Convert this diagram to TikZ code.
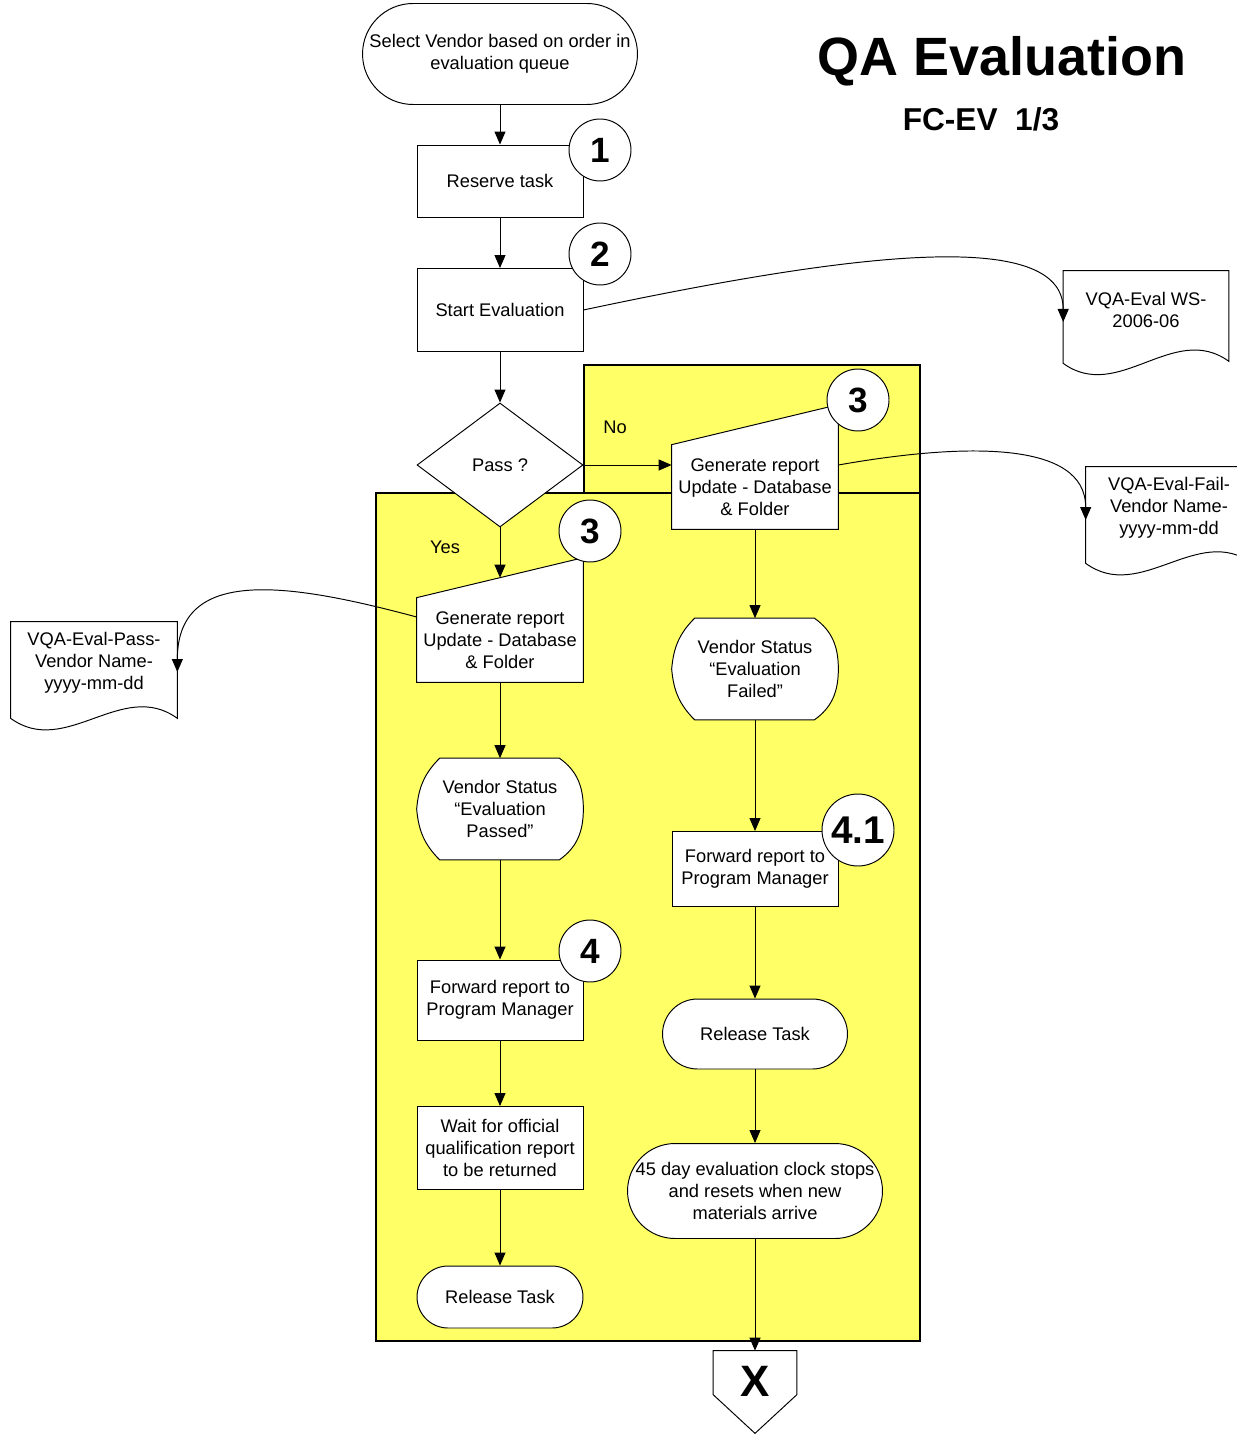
\documentclass[tikz,border=0pt]{standalone}
\usepackage{fontspec}
\setmainfont{Liberation Sans}
\usepackage{tikz}
\usetikzlibrary{positioning,arrows.meta,calc,backgrounds,shapes.geometric}
\definecolor{ink}{HTML}{000000}
\definecolor{lane}{HTML}{FFFF66}
\tikzset{
  blk/.style  = {rectangle, draw=ink, fill=white, line width=0.55pt, align=center, text=ink,
                 font=\fontsize{10.4}{12.5}\selectfont, minimum width=3.32cm, inner sep=1pt},
  trm/.style  = {blk, inner sep=0pt},
  dec/.style  = {diamond, draw=ink, fill=white, line width=0.55pt, inner sep=0pt,
                 minimum width=3.32cm, minimum height=2.48cm, font=\fontsize{10.4}{12.5}\selectfont},
  txt/.style  = {align=center, text=ink, font=\fontsize{10.4}{12.5}\selectfont, inner sep=1pt,
                 minimum width=3.32cm},
  shp/.style  = {draw=ink, fill=white, line width=0.55pt},
  num/.style  = {circle, draw=ink, fill=white, line width=0.55pt, minimum size=1.24cm, inner sep=0pt,
                 font=\bfseries\fontsize{20}{20}\selectfont},
  lab/.style  = {text=ink, font=\fontsize{10.4}{12.5}\selectfont},
  ar/.style   = {-{Triangle[length=2.6mm,width=2.2mm]}, line width=0.55pt, draw=ink},
  lanebox/.style = {fill=lane, draw=ink, line width=1.1pt},
}
\begin{document}
\begin{tikzpicture}[x=0.02cm,y=-0.02cm]
  \useasboundingbox (0,0) rectangle (1236,1435);

  % ---------------- yellow area ----------------
  \begin{scope}[on background layer]
    \draw[lanebox] (584,365) rectangle (920,493);
    \draw[lanebox] (376,493) rectangle (920,1341);
  \end{scope}

  % ---------------- title ----------------
  \node[text=ink, font=\bfseries\fontsize{30.7}{34}\selectfont] (ttl) at (1002,61) {QA Evaluation};
  \node[text=ink, font=\bfseries\fontsize{18}{20}\selectfont] (sub) at (981,119) {FC-EV~~1/3};

  % ---------------- top of the flow ----------------
  \node[trm, minimum width=5.5cm, minimum height=2.02cm, rounded corners=1.01cm] (start) at (500,54)
       {Select Vendor based on order in\\evaluation queue};
  \node[blk, minimum height=1.44cm] (rsv) at (500,181) {Reserve task};
  \node[num] (n1) at (600,150) {1};
  \draw[ar] (start) -- (rsv);
  \node[blk, minimum height=1.66cm] (sev) at (500,310) {Start Evaluation};
  \node[num] (n2) at (600,254) {2};
  \draw[ar] (rsv) -- (sev);

  % worksheet
  \node[txt, minimum width=3.3cm, minimum height=1.56cm] (docws) at (1146,310) {VQA-Eval WS-\\2006-06};
  \begin{scope}[on background layer]
    \draw[shp] ($(docws.south west)+(0,14)$) -- (docws.north west) -- (docws.north east)
      -- ($(docws.south east)+(0,12)$) .. controls +(-55,-40) and +(55,40) .. ($(docws.south west)+(0,14)$) -- cycle;
  \end{scope}
  \draw[ar] (sev.east) to[out=12, in=90, out looseness=1.5, in looseness=0.5] ($(docws.west)+(0,12)$);

  \node[dec] (pass) at (500,465) {Pass ?};
  \draw[ar] (sev) -- (pass);

  % ---------------- fail branch ----------------
  \node[txt, minimum height=1.68cm] (genr) at (755,487) {Generate report\\Update - Database\\\& Folder};
  \begin{scope}[on background layer]
    \draw[shp] (genr.south west) -- (genr.south east) -- ($(genr.north east)+(0,-40)$) -- (genr.north west) -- cycle;
  \end{scope}
  \node[num] (n3r) at (858,400) {3};
  \draw[ar] (pass.east) -- (pass.east -| genr.west);
  \node[lab] (no) at (615,427) {No};

  \node[txt, minimum height=1.64cm] (docf) at (1169,508) {VQA-Eval-Fail-\\Vendor Name-\\yyyy-mm-dd};
  \begin{scope}[on background layer]
    \draw[shp] ($(docf.south west)+(0,14)$) -- (docf.north west) -- (docf.north east)
      -- ($(docf.south east)+(0,14)$) .. controls +(-55,-40) and +(55,40) .. ($(docf.south west)+(0,14)$) -- cycle;
  \end{scope}
  \draw[ar] ($(genr.east)+(0,-22)$) to[out=10, in=90, out looseness=1.3, in looseness=0.8] ($(docf.west)+(0,12)$);

  \node[txt, minimum height=2.02cm] (vsf) at (755,669) {Vendor Status\\“Evaluation\\Failed”};
  \begin{scope}[on background layer]
    \draw[shp] ($(vsf.north west)+(23,0)$) -- ($(vsf.north east)+(-24,0)$) to[out=-35, in=90] (vsf.east)
      to[out=-90, in=35] ($(vsf.south east)+(-24,0)$) -- ($(vsf.south west)+(23,0)$)
      to[out=135, in=-85] (vsf.west) to[out=85, in=225] ($(vsf.north west)+(23,0)$) -- cycle;
  \end{scope}
  \draw[ar] (genr) -- (vsf);

  \node[blk, minimum height=1.5cm] (fwdr) at (755,869) {Forward report to\\Program Manager};
  \node[num, minimum size=1.44cm, font=\bfseries\fontsize{22}{22}\selectfont] (n41) at (858,830) {4.1};
  \draw[ar] (vsf) -- (fwdr);
  \node[trm, minimum width=3.7cm, minimum height=1.4cm, rounded corners=0.7cm] (relr) at (755,1034) {Release Task};
  \draw[ar] (fwdr) -- (relr);
  \node[trm, minimum width=5.1cm, minimum height=1.9cm, rounded corners=0.95cm] (clk) at (755,1191)
       {45 day evaluation clock stops\\and resets when new\\materials arrive};
  \draw[ar] (relr) -- (clk);

  % off-page connector
  \node[txt, minimum width=1.66cm, minimum height=1.2cm, font=\bfseries\fontsize{25}{25}\selectfont] (endx) at (755,1381) {X};
  \begin{scope}[on background layer]
    \draw[shp] (endx.north west) -- (endx.north east) -- ($(endx.north east)+(0,44)$)
      -- ($(endx.south)+(0,22)$) -- ($(endx.north west)+(0,44)$) -- cycle;
  \end{scope}
  \draw[ar] (clk) -- (endx);

  % ---------------- pass branch ----------------
  \node[txt, minimum height=1.68cm] (genl) at (500,640) {Generate report\\Update - Database\\\& Folder};
  \begin{scope}[on background layer]
    \draw[shp] (genl.south west) -- (genl.south east) -- ($(genl.north east)+(0,-40)$) -- (genl.north west) -- cycle;
  \end{scope}
  \node[num] (n3l) at (590,531) {3};
  \draw[ar] (pass.south) -- ($(genl.north)+(0,-20)$);
  \node[lab] (yes) at (445,547) {Yes};

  \node[txt, minimum height=1.64cm] (docp) at (94,663) {VQA-Eval-Pass-\\Vendor Name-\\yyyy-mm-dd};
  \begin{scope}[on background layer]
    \draw[shp] ($(docp.south west)+(0,14)$) -- (docp.north west) -- (docp.north east)
      -- ($(docp.south east)+(0,14)$) .. controls +(-55,-40) and +(55,40) .. ($(docp.south west)+(0,14)$) -- cycle;
  \end{scope}
  \draw[ar] ($(genl.west)+(0,-23)$) to[out=165, in=90, out looseness=1.4, in looseness=1.1] ($(docp.east)+(0,9)$);

  \node[txt, minimum height=2.02cm] (vsp) at (500,809) {Vendor Status\\“Evaluation\\Passed”};
  \begin{scope}[on background layer]
    \draw[shp] ($(vsp.north west)+(23,0)$) -- ($(vsp.north east)+(-24,0)$) to[out=-35, in=90] (vsp.east)
      to[out=-90, in=35] ($(vsp.south east)+(-24,0)$) -- ($(vsp.south west)+(23,0)$)
      to[out=135, in=-85] (vsp.west) to[out=85, in=225] ($(vsp.north west)+(23,0)$) -- cycle;
  \end{scope}
  \draw[ar] (genl) -- (vsp);

  \node[blk, minimum height=1.6cm] (fwdl) at (500,1000) {Forward report to\\Program Manager};
  \node[num] (n4) at (590,951) {4};
  \draw[ar] (vsp) -- (fwdl);
  \node[blk, minimum height=1.66cm] (wait) at (500,1148) {Wait for official\\qualification report\\to be returned};
  \draw[ar] (fwdl) -- (wait);
  \node[trm, minimum height=1.24cm, rounded corners=0.62cm] (rell) at (500,1297) {Release Task};
  \draw[ar] (wait) -- (rell);
\end{tikzpicture}
\end{document}
